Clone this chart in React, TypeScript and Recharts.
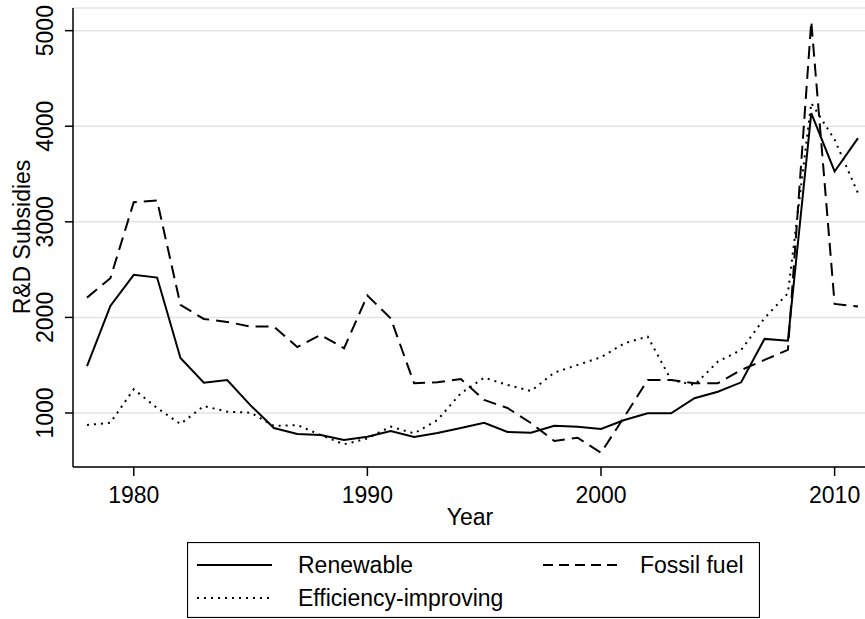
import { LineChart, Line, XAxis, YAxis, CartesianGrid, Legend, Label } from "recharts";

const years = [
  1978, 1979, 1980, 1981, 1982, 1983, 1984, 1985, 1986, 1987, 1988, 1989,
  1990, 1991, 1992, 1993, 1994, 1995, 1996, 1997, 1998, 1999, 2000, 2001,
  2002, 2003, 2004, 2005, 2006, 2007, 2008, 2009, 2010, 2011,
];
const renewable = [
  1490, 2120, 2445, 2417, 1576, 1317, 1345, 1080, 843, 780, 770, 717,
  752, 812, 749, 790, 843, 898, 801, 794, 867, 857, 832, 927,
  997, 997, 1154, 1223, 1321, 1775, 1757, 4138, 3527, 3876,
];
const fossil = [
  2207, 2410, 3206, 3223, 2131, 1984, 1953, 1904, 1904, 1690, 1817, 1677,
  2229, 1990, 1311, 1321, 1356, 1136, 1052, 895, 707, 741, 584, 961,
  1346, 1346, 1311, 1311, 1450, 1555, 1660, 5097, 2141, 2113,
];
const efficiency = [
  874, 898, 1248, 1052, 885, 1073, 1014, 1003, 864, 874, 770, 672,
  735, 857, 787, 927, 1206, 1370, 1293, 1230, 1422, 1503, 1583, 1730,
  1799, 1346, 1293, 1537, 1660, 1992, 2253, 4243, 3859, 3300,
];
const xTicks = [1980, 1990, 2000, 2010];
const yTicks = [1000, 2000, 3000, 4000, 5000];

const data = years.map((year, i) => ({
  year,
  renewable: renewable[i],
  fossil: fossil[i],
  efficiency: efficiency[i],
}));

const FONT = "'Liberation Sans', Arial, sans-serif";

const YTick = ({ y, payload }: any) => (
  <text
    transform={`translate(53, ${y}) rotate(-90)`}
    textAnchor="middle"
    fontFamily={FONT}
    fontSize={23}
    fill="#000"
  >
    {payload.value}
  </text>
);

const XTick = ({ x, payload }: any) => (
  <text x={x} y={503} textAnchor="middle" fontFamily={FONT} fontSize={23} fill="#000">
    {payload.value}
  </text>
);

const LegendBox = () => (
  <svg width={573} height={76} style={{ display: "block" }}>
    <rect x={0.5} y={0.5} width={572} height={75} fill="#fff" stroke="#000" strokeWidth={1.2} />
    <line x1={10} x2={85} y1={23} y2={23} stroke="#000" strokeWidth={2} />
    <text x={111} y={31} fontFamily={FONT} fontSize={23}>Renewable</text>
    <line x1={356} x2={436} y1={23} y2={23} stroke="#000" strokeWidth={2} strokeDasharray="10 6" />
    <text x={453} y={31} fontFamily={FONT} fontSize={23}>Fossil fuel</text>
    <line x1={10} x2={85} y1={56} y2={56} stroke="#000" strokeWidth={2} strokeDasharray="2 5" />
    <text x={111} y={64} fontFamily={FONT} fontSize={23}>Efficiency-improving</text>
  </svg>
);

export default function App() {
  return (
    <div style={{ width: 865, height: 619, background: "#fff" }}>
      <style>{`body{margin:0;background:#fff}`}</style>
      <LineChart
        width={865}
        height={619}
        data={data}
        margin={{ top: 8, right: 0, bottom: 92, left: 0 }}
      >
        <CartesianGrid vertical={false} stroke="#e3e3e3" strokeWidth={1.5} />
        <XAxis
          dataKey="year"
          type="number"
          domain={[1977.4, 2011.3]}
          ticks={xTicks}
          allowDataOverflow
          height={60}
          tick={<XTick />}
          tickSize={9}
          axisLine={{ stroke: "#000", strokeWidth: 1.5 }}
          tickLine={{ stroke: "#000", strokeWidth: 1.5 }}
        >
          <Label
            content={() => (
              <text x={470} y={525} textAnchor="middle" fontFamily={FONT} fontSize={23} fill="#000">
                Year
              </text>
            )}
          />
        </XAxis>
        <YAxis
          type="number"
          domain={[435, 5237]}
          ticks={yTicks}
          allowDataOverflow
          width={73}
          tick={<YTick />}
          tickSize={8}
          axisLine={{ stroke: "#000", strokeWidth: 1.5 }}
          tickLine={{ stroke: "#000", strokeWidth: 1.5 }}
        >
          <Label
            content={() => (
              <text
                transform="translate(30, 237) rotate(-90)"
                textAnchor="middle"
                fontFamily={FONT}
                fontSize={23}
                fill="#000"
              >
                R&amp;D Subsidies
              </text>
            )}
          />
        </YAxis>
        <Legend
          layout="horizontal"
          verticalAlign="middle"
          align="center"
          content={<LegendBox />}
          wrapperStyle={{ top: 542, left: 187, width: 573, height: 76 }}
        />
        <Line
          type="linear"
          dataKey="renewable"
          name="Renewable"
          stroke="#000"
          strokeWidth={2}
          dot={false}
          isAnimationActive={false}
        />
        <Line
          type="linear"
          dataKey="fossil"
          name="Fossil fuel"
          stroke="#000"
          strokeWidth={2}
          strokeDasharray="13 7"
          dot={false}
          isAnimationActive={false}
        />
        <Line
          type="linear"
          dataKey="efficiency"
          name="Efficiency-improving"
          stroke="#000"
          strokeWidth={2}
          strokeDasharray="2 5"
          dot={false}
          isAnimationActive={false}
        />
      </LineChart>
    </div>
  );
}
